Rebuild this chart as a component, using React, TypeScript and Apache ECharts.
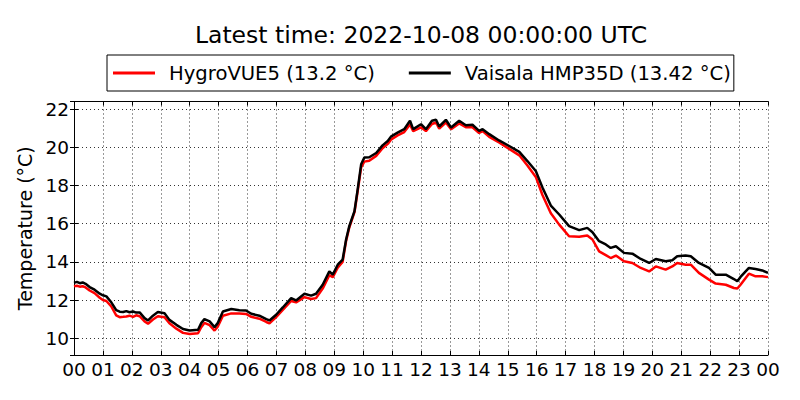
import React, { useEffect, useRef } from "react";
import * as echarts from "echarts";

const titleText = "Latest time: 2022-10-08 00:00:00 UTC";
const hygroName = "HygroVUE5 (13.2 °C)";
const vaisalaName = "Vaisala HMP35D (13.42 °C)";
const yAxisName = "Temperature (°C)";

// hours since 2022-10-07 00:00 UTC
const times = [
  0.0, 0.1, 0.2, 0.3, 0.4, 0.54, 0.71, 0.89, 1.0, 1.12, 1.29, 1.46, 1.58, 1.7, 1.81, 1.92,
  2.04, 2.15, 2.27, 2.44, 2.56, 2.73, 2.9, 3.13, 3.3, 3.54, 3.77, 4.0, 4.29, 4.4, 4.51, 4.69,
  4.86, 4.97, 5.15, 5.44, 5.72, 5.95, 6.13, 6.41, 6.65, 6.76, 6.99, 7.22, 7.51, 7.68, 7.97,
  8.2, 8.37, 8.6, 8.83, 8.95, 9.12, 9.29, 9.41, 9.52, 9.7, 9.81, 9.93, 10.04, 10.21, 10.45,
  10.67, 10.85, 10.96, 11.19, 11.42, 11.62, 11.73, 12.0, 12.17, 12.38, 12.52, 12.63, 12.86,
  13.04, 13.32, 13.55, 13.78, 14.01, 14.13, 14.36, 14.7, 15.05, 15.4, 15.68, 15.97, 16.2,
  16.49, 16.78, 17.12, 17.47, 17.75, 17.93, 18.16, 18.39, 18.56, 18.74, 19.02, 19.31, 19.6,
  19.89, 20.12, 20.46, 20.69, 20.86, 21.15, 21.33, 21.61, 21.96, 22.19, 22.54, 22.82, 22.94,
  23.05, 23.34, 23.57, 23.8, 24.0,
];

const vaisala = [
  12.9, 12.95, 12.88, 12.92, 12.85, 12.68, 12.54, 12.33, 12.25, 12.19, 11.88, 11.47, 11.39,
  11.37, 11.42, 11.36, 11.4, 11.34, 11.35, 11.05, 10.93, 11.18, 11.37, 11.31, 10.96, 10.7,
  10.48, 10.4, 10.44, 10.79, 11.0, 10.88, 10.58, 10.79, 11.4, 11.53, 11.47, 11.45, 11.28,
  11.18, 11.0, 10.93, 11.23, 11.61, 12.1, 11.98, 12.33, 12.23, 12.33, 12.8, 13.5, 13.33,
  13.85, 14.12, 15.17, 15.87, 16.66, 17.8, 19.11, 19.46, 19.48, 19.7, 20.1, 20.33, 20.56,
  20.77, 20.95, 21.39, 20.95, 21.21, 20.95, 21.39, 21.44, 21.09, 21.44, 21.04, 21.39, 21.16,
  21.18, 20.86, 20.95, 20.69, 20.36, 20.07, 19.76, 19.28, 18.76, 17.9, 16.95, 16.48, 15.87,
  15.66, 15.78, 15.55, 15.08, 14.91, 14.73, 14.82, 14.47, 14.43, 14.15, 13.94, 14.15, 14.03,
  14.08, 14.29, 14.33, 14.29, 13.94, 13.68, 13.33, 13.33, 13.1, 12.98, 13.21, 13.68, 13.63,
  13.55, 13.42,
];

const hygro = [
  12.72, 12.75, 12.7, 12.72, 12.66, 12.5, 12.36, 12.12, 12.0, 11.95, 11.66, 11.2, 11.1, 11.12,
  11.14, 11.18, 11.12, 11.2, 11.15, 10.88, 10.76, 10.98, 11.15, 11.1, 10.78, 10.5, 10.28,
  10.22, 10.26, 10.58, 10.8, 10.68, 10.4, 10.6, 11.18, 11.3, 11.3, 11.27, 11.12, 11.02,
  10.85, 10.78, 11.1, 11.48, 11.95, 11.88, 12.15, 12.05, 12.1, 12.6, 13.3, 13.2, 13.7, 14.0,
  15.1, 15.8, 16.6, 17.7, 18.95, 19.25, 19.3, 19.55, 19.95, 20.18, 20.4, 20.62, 20.8, 21.2,
  20.85, 21.05, 20.85, 21.22, 21.3, 20.98, 21.3, 20.95, 21.25, 21.05, 21.05, 20.75, 20.85,
  20.55, 20.25, 19.92, 19.58, 19.05, 18.45, 17.5, 16.55, 15.95, 15.34, 15.31, 15.38, 15.17,
  14.55, 14.35, 14.2, 14.33, 14.03, 13.94, 13.68, 13.5, 13.76, 13.59, 13.76, 13.94, 13.85,
  13.85, 13.42, 13.07, 12.86, 12.8, 12.63, 12.6, 12.8, 13.38, 13.24, 13.24, 13.2,
];

const FONT = "DejaVu Sans";

export default function App() {
  const ref = useRef<HTMLDivElement>(null);
  useEffect(() => {
    if (!ref.current) return;
    const chart = echarts.init(ref.current, undefined, { renderer: "svg" });
    const pad = (v: number) => String(Math.round(v) % 24).padStart(2, "0");
    const axisLine = { show: true, lineStyle: { color: "#000", width: 1 } };
    const tick = { show: true, inside: true, length: 4, lineStyle: { color: "#000", width: 1 } };
    const grid = { show: true, lineStyle: { color: "#333", width: 1, type: [1, 3] } };
    chart.setOption({
      animation: false,
      backgroundColor: "#fff",
      textStyle: { fontFamily: FONT },
      title: {
        text: titleText,
        left: 421,
        textAlign: "center",
        top: 23,
        padding: 0,
        textStyle: { fontFamily: FONT, fontSize: 23.5, fontWeight: "normal", color: "#000" },
      },
      legend: {
        left: 107,
        top: 55,
        orient: "horizontal",
        icon: "rect",
        itemWidth: 42,
        itemHeight: 3,
        itemGap: 34,
        borderColor: "#000",
        borderWidth: 1,
        borderRadius: 0,
        padding: [8, 3, 8, 6],
        textStyle: { fontFamily: FONT, fontSize: 19.6, color: "#000", lineHeight: 20, padding: [0, 0, 0, 9] },
        data: [hygroName, vaisalaName],
      },
      grid: { left: 74, right: 32, top: 101.5, bottom: 45, containLabel: false },
      xAxis: [
        {
          type: "value",
          min: 0,
          max: 24,
          interval: 1,
          position: "bottom",
          axisLine,
          axisTick: tick,
          splitLine: grid,
          axisLabel: { fontFamily: FONT, fontSize: 18.5, color: "#000", margin: 5, formatter: pad },
        },
        {
          type: "value",
          min: 0,
          max: 24,
          interval: 1,
          position: "top",
          axisLine,
          axisTick: tick,
          splitLine: { show: false },
          axisLabel: { show: false },
        },
      ],
      yAxis: [
        {
          type: "value",
          min: 9.12,
          max: 22.4,
          splitNumber: 7,
          position: "left",
          axisLine,
          axisTick: tick,
          splitLine: grid,
          axisLabel: {
            fontFamily: FONT,
            fontSize: 18.5,
            color: "#000",
            margin: 5,
            showMinLabel: false,
            showMaxLabel: false,
          },
          name: yAxisName,
          nameLocation: "middle",
          nameGap: 36,
          nameTextStyle: { fontFamily: FONT, fontSize: 19, color: "#000" },
        },
        {
          type: "value",
          min: 9.12,
          max: 22.4,
          splitNumber: 7,
          position: "right",
          axisLine,
          axisTick: tick,
          splitLine: { show: false },
          axisLabel: { show: false },
        },
      ],
      series: [
        {
          name: hygroName,
          type: "line",
          xAxisIndex: 0,
          yAxisIndex: 0,
          showSymbol: false,
          symbol: "none",
          color: "#ff0000",
          lineStyle: { color: "#ff0000", width: 2.5 },
          data: times.map((t, i) => [t, hygro[i]]),
        },
        {
          name: vaisalaName,
          type: "line",
          xAxisIndex: 0,
          yAxisIndex: 0,
          showSymbol: false,
          symbol: "none",
          color: "#000000",
          lineStyle: { color: "#000000", width: 2.5 },
          data: times.map((t, i) => [t, vaisala[i]]),
        },
      ],
    });
    return () => chart.dispose();
  }, []);
  return (
    <div
      ref={ref}
      style={{ position: "fixed", left: 0, top: 0, width: 800, height: 400, background: "#fff" }}
    />
  );
}
